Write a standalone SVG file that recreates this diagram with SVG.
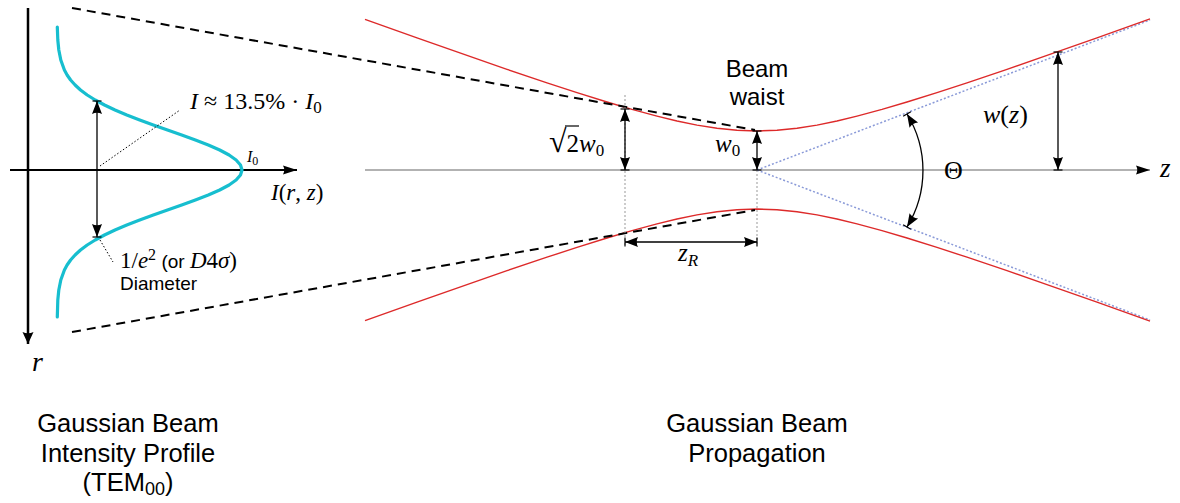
<svg xmlns="http://www.w3.org/2000/svg" width="1180" height="503" viewBox="0 0 1180 503">
<style>
.m{font-family:"Liberation Serif","DejaVu Serif",serif;fill:#000}
.i{font-style:italic}
.s{font-family:"Liberation Sans","Open Sans",sans-serif;fill:#000}
.dash{fill:none;stroke:#000;stroke-width:2;stroke-dasharray:9 6}
.dim{fill:none;stroke:#000;stroke-width:1.3;marker-start:url(#tb);marker-end:url(#tb)}
.guide{fill:none;stroke:#999;stroke-width:1;stroke-dasharray:2 2}
.asym{fill:none;stroke:#8a9ad8;stroke-width:1.5;stroke-dasharray:2 2}
.red{fill:none;stroke:#dd2a2a;stroke-width:1.4;stroke-linejoin:round}
</style>
<defs>
<marker id="tb" viewBox="-1 -6 15 12" markerWidth="15" markerHeight="12" refX="13" refY="0" orient="auto-start-reverse" markerUnits="userSpaceOnUse" overflow="visible">
<path d="M13,0 L0,-5 Q2.5,0 0,5 Z" fill="#000"/>
<line x1="13" y1="-4.5" x2="13" y2="4.5" stroke="#000" stroke-width="1.2"/>
</marker>
<marker id="ax" viewBox="0 -6 15 12" markerWidth="15" markerHeight="12" refX="14" refY="0" orient="auto" markerUnits="userSpaceOnUse" overflow="visible">
<path d="M14,0 L0,-4.5 Q2.5,0 0,4.5 Z" fill="#000"/>
</marker>
<marker id="axr" viewBox="0 -7 14 14" markerWidth="14" markerHeight="14" refX="12" refY="0" orient="auto" markerUnits="userSpaceOnUse" overflow="visible">
<path d="M12,0 L0,-5.5 Q2.5,0 0,5.5 Z" fill="#000"/>
</marker>
</defs>
<rect width="1180" height="503" fill="#fff"/>

<g id="profile-axes">
<line x1="28" y1="8" x2="28" y2="344" stroke="#000" stroke-width="2.5" marker-end="url(#axr)"/>
<line x1="10" y1="170" x2="297" y2="170" stroke="#000" stroke-width="2" marker-end="url(#ax)"/>
<text x="32" y="371" class="m i" font-size="28">r</text>
<text x="271" y="200" class="m" font-size="23"><tspan class="i">I</tspan>(<tspan class="i">r</tspan>, <tspan class="i">z</tspan>)</text>
</g>

<g id="gaussian-curve">
<polyline fill="none" stroke="#17becf" stroke-width="3.2" stroke-linejoin="round" stroke-linecap="round" points="57.3,27 57.8,40 58.8,50 60.8,60 64.4,70 67.1,75 70.6,80 75.1,85 80.5,90 87.2,95 95.2,100 104.5,105 115,110 126.8,115 139.7,120 153.3,125 167.5,130 181.7,135 195.4,140 208.3,145 219.7,150 229.1,155 236.1,160 240.5,165 242,170 240.5,175 236.1,180 229.1,185 219.7,190 208.3,195 195.4,200 181.7,205 167.5,210 153.3,215 139.7,220 126.8,225 115,230 104.5,235 95.2,240 87.2,245 80.5,250 75.1,255 70.6,260 67.1,265 64.4,270 60.8,280 58.8,290 57.8,300 57.3,317"/>
<text x="247" y="162" class="m i" font-size="16">I<tspan dy="3" font-size="12" font-style="normal">0</tspan></text>
</g>

<g id="intensity-label">
<text x="190" y="109" class="m" font-size="24" xml:space="preserve"><tspan class="i">I</tspan> ≈ 13.5% · <tspan class="i">I</tspan><tspan dy="4" font-size="17">0</tspan></text>
</g>

<g id="diameter-label">
<text x="120" y="268" class="m" font-size="23">1/<tspan class="i">e</tspan><tspan dy="-8" font-size="16">2</tspan><tspan dy="8" class="s" font-size="19"> (or </tspan><tspan class="i">D</tspan>4<tspan class="i">σ</tspan>)</text>
<text x="120" y="290" class="s" font-size="19">Diameter</text>
</g>

<g id="beam">
<line x1="365" y1="170" x2="1150" y2="170" stroke="#999" stroke-width="1.3" marker-end="url(#ax)"/>
<line x1="757" y1="170" x2="1150" y2="20" class="asym"/>
<line x1="757" y1="170" x2="1150" y2="320" class="asym"/>
<polyline class="red" points="365,19.3 417,37.8 467,55.4 507,69.3 547,82.8 577,92.6 607,102 632,109.4 657,116.1 677,121 697,125.1 717,128.3 737,130.3 757,131 777,130.3 797,128.3 817,125.1 837,121 857,116.1 882,109.4 907,102 937,92.6 967,82.8 1007,69.3 1047,55.4 1097,37.8 1150,18.9"/>
<polyline class="red" points="365,320.7 417,302.2 467,284.6 507,270.7 547,257.2 577,247.4 607,238 632,230.6 657,223.9 677,219 697,214.9 717,211.7 737,209.7 757,209 777,209.7 797,211.7 817,214.9 837,219 857,223.9 882,230.6 907,238 937,247.4 967,257.2 1007,270.7 1047,284.6 1097,302.2 1150,321.1"/>
<text x="1160" y="177" class="m i" font-size="27">z</text>
</g>

<g id="beam-waist-label">
<text x="757" y="77" class="s" font-size="24" text-anchor="middle">Beam</text>
<text x="757" y="105" class="s" font-size="24" text-anchor="middle">waist</text>
</g>

<g id="connectors">
<line x1="72" y1="8" x2="755" y2="130" class="dash"/>
<line x1="72" y1="332" x2="755" y2="210" class="dash"/>
<line x1="97" y1="101" x2="97" y2="237" class="dim"/>
<line x1="100" y1="166" x2="180" y2="110" stroke="#000" stroke-width="1" stroke-dasharray="1.5 2"/>
<line x1="100" y1="240" x2="113" y2="262" stroke="#000" stroke-width="1" stroke-dasharray="1.5 2"/>
<line x1="625" y1="95" x2="625" y2="246" class="guide"/>
<line x1="757" y1="170" x2="757" y2="246" class="guide"/>
<line x1="625" y1="109" x2="625" y2="170" class="dim"/>
<line x1="757" y1="131" x2="757" y2="170" class="dim"/>
<line x1="625" y1="242" x2="757" y2="242" class="dim" stroke="#555"/>
<line x1="1058" y1="52" x2="1058" y2="170" class="dim"/>
<path d="M907,114 A108,108 0 0 1 907,227" class="dim"/>
</g>

<g id="dimension-labels">
<text x="549" y="152" class="m" font-size="25"><tspan font-size="32">√</tspan>2<tspan class="i">w</tspan><tspan dy="4" font-size="17">0</tspan></text>
<line x1="565" y1="126" x2="579" y2="126" stroke="#000" stroke-width="1.2"/>
<text x="715" y="152" class="m i" font-size="25">w<tspan dy="4" font-size="17" font-style="normal">0</tspan></text>
<text x="678" y="261" class="m i" font-size="25">z<tspan dy="5" font-size="17">R</tspan></text>
<text x="983" y="123" class="m" font-size="26"><tspan class="i">w</tspan>(<tspan class="i">z</tspan>)</text>
<text x="944" y="179" class="m" font-size="26">Θ</text>
</g>

<g id="titles">
<text x="128" y="432" class="s" font-size="25.5" text-anchor="middle">Gaussian Beam</text>
<text x="128" y="462" class="s" font-size="25.5" text-anchor="middle">Intensity Profile</text>
<text x="128" y="491" class="s" font-size="25.5" text-anchor="middle">(TEM<tspan dy="4" font-size="18">00</tspan><tspan dy="-4">)</tspan></text>
<text x="757" y="432" class="s" font-size="25.5" text-anchor="middle">Gaussian Beam</text>
<text x="757" y="462" class="s" font-size="25.5" text-anchor="middle">Propagation</text>
</g>
</svg>
